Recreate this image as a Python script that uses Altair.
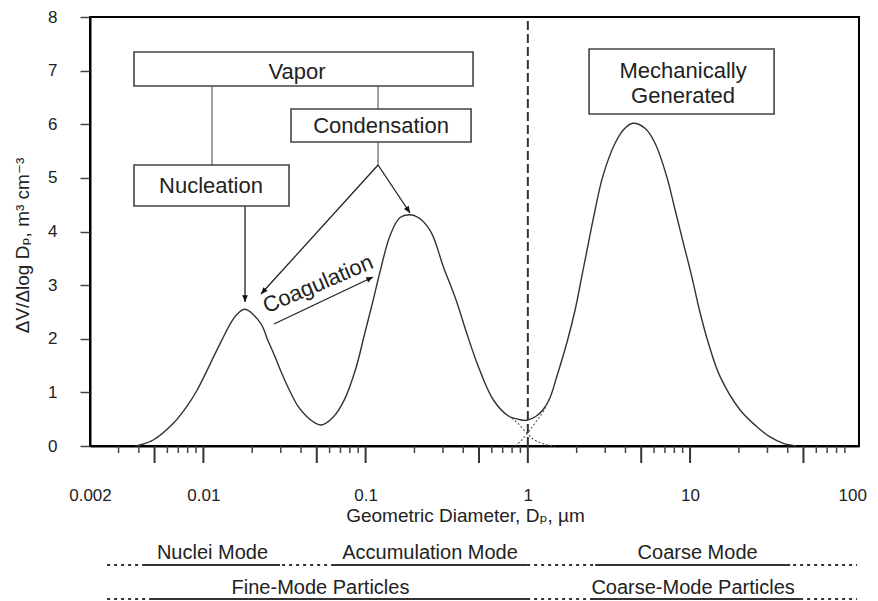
import altair as alt
import pandas as pd

FONT = "Liberation Sans, Arial, DejaVu Sans, sans-serif"
INK = "#222222"

# ---------------- size distribution ----------------
total_dp = [0.0038, 0.00407, 0.00491, 0.00653, 0.00789, 0.00910, 0.01023, 0.01163, 0.01297, 0.01459, 0.01619, 0.01806,
            0.02256, 0.02491, 0.02764, 0.03040, 0.03386, 0.03847, 0.04335, 0.04877, 0.05363,
            0.0632, 0.0739, 0.0873, 0.0982, 0.1105, 0.1227, 0.1414, 0.1630, 0.1924, 0.222, 0.2555, 0.3014, 0.3610,
            0.4201, 0.4958, 0.6135, 0.7591, 0.87, 0.985,
            1.13, 1.25, 1.37, 1.507, 1.737, 1.955, 2.150, 2.361, 2.597, 2.895, 3.450, 3.95, 4.435, 5.30, 6.085,
            7.183, 8.087, 9.100, 10.25, 11.42, 12.98, 15.32, 20.35, 25.8, 31.1, 37.6, 41.4, 45.0]
total_dv = [0.0, 0.02, 0.112, 0.423, 0.733, 1.03, 1.33, 1.68, 1.97, 2.27, 2.46, 2.549,
            2.288, 1.977, 1.666, 1.355, 1.044, 0.733, 0.55, 0.43, 0.392,
            0.54, 0.86, 1.46, 2.07, 2.68, 3.25, 3.92, 4.26, 4.308, 4.21, 3.966, 3.344, 2.723,
            2.101, 1.479, 0.858, 0.56, 0.50, 0.48,
            0.56, 0.69, 0.90, 1.29, 1.915, 2.536, 3.158, 3.780, 4.401, 5.023, 5.645, 5.92, 6.018, 5.92, 5.645,
            5.023, 4.401, 3.780, 3.158, 2.536, 1.915, 1.293, 0.671, 0.36, 0.17, 0.05, 0.02, 0.0]

accum_tail_dp = [0.76, 0.87, 0.985, 1.09, 1.19, 1.32, 1.47]
accum_tail_dv = [0.56, 0.42, 0.24, 0.12, 0.06, 0.02, 0.0]
coarse_tail_dp = [0.834, 0.895, 0.985, 1.134, 1.25, 1.37]
coarse_tail_dv = [0.0, 0.08, 0.224, 0.47, 0.65, 0.89]

# ---------------- axes ----------------
x_label_values = [0.002, 0.01, 0.1, 1, 10, 100]
y_label_values = [0, 1, 2, 3, 4, 5, 6, 7, 8]
major_ticks = [0.005, 0.01, 0.05, 0.1, 0.5, 1, 5, 10, 50]
minor_ticks = [0.003, 0.004, 0.006, 0.007, 0.008, 0.009,
               0.02, 0.03, 0.04, 0.06, 0.07, 0.08, 0.09,
               0.2, 0.3, 0.4, 0.6, 0.7, 0.8, 0.9,
               2, 3, 4, 6, 7, 8, 9,
               20, 30, 40, 60, 70, 80, 90]

# ---------------- annotation boxes ----------------
box_x1 = [0.003735, 0.03469, 0.003735, 2.385]
box_x2 = [0.4595, 0.4467, 0.03372, 32.97]
box_y1 = [7.347, 6.284, 5.240, 7.403]
box_y2 = [6.713, 5.669, 4.476, 6.191]
box_text = ["Vapor", "Condensation", "Nucleation", "Mechanically", "Generated"]
box_text_x = [0.03777, 0.1245, 0.01114, 9.06, 9.06]
box_text_y = [6.974, 5.967, 4.848, 6.993, 6.527]

# gray connectors
conn_x1 = [0.01130, 0.1193, 0.1193]
conn_x2 = [0.01130, 0.1193, 0.1193]
conn_y1 = [6.713, 6.713, 5.669]
conn_y2 = [5.240, 6.284, 5.240]

# arrows (start -> tip)
arr_x1 = [0.01806, 0.1193, 0.1193, 0.02725]
arr_y1 = [4.476, 5.240, 5.240, 2.275]
arr_x2 = [0.01806, 0.1879, 0.02265, 0.1111]
arr_y2 = [2.685, 4.345, 2.834, 3.152]
arr_angle = [180, 146.3, 222.2, 64.6]

coag_label = ["Coagulation"]
coag_x = [0.0509]
coag_y = [3.02]

# ---------------- mode bands below the axis ----------------
band_text = ["Nuclei Mode", "Accumulation Mode", "Coarse Mode", "Fine-Mode Particles", "Coarse-Mode Particles"]
band_text_x = [0.01138, 0.2495, 11.13, 0.0527, 10.44]
band_row = [1, 1, 1, 2, 2]
band_solid_x1 = [0.00436, 0.0621, 2.60, 0.00470, 2.42]
band_solid_x2 = [0.02968, 0.989, 41.4, 0.995, 47.6]
band_solid_row = [1, 1, 1, 2, 2]
band_dot_x1 = [0.00255, 0.00255]
band_dot_x2 = [107, 107]
band_dot_row = [1, 2]

W, H = 769, 429
ROW_LINE_Y = {1: H + 119, 2: H + 153}
ROW_TEXT_Y = {1: H + 107, 2: H + 142}

xscale = alt.Scale(type="log", domain=[0.002, 110], nice=False)
yscale = alt.Scale(domain=[0, 8], nice=False, zero=False)

x_axis = alt.Axis(values=x_label_values, format="~g", ticks=False, tickSize=0, grid=False,
                  labelFontSize=17, labelColor=INK, labelPadding=49, labelBaseline="middle",
                  labelFlush=False, labelOverlap=False,
                  domainColor="black", domainWidth=2,
                  title="Geometric Diameter, Dₚ, µm", titleFontSize=19, titleFontWeight="normal",
                  titleColor=INK, titleX=375, titleY=69, titleBaseline="middle", titleAlign="center")
y_axis = alt.Axis(values=y_label_values, tickSize=10, tickColor="#444444", tickWidth=1.5, grid=False,
                  labelFontSize=17, labelColor=INK, labelPadding=23,
                  domainColor="black", domainWidth=2,
                  title="ΔV/Δlog Dₚ, m³ cm⁻³", titleFontSize=19, titleFontWeight="normal",
                  titleColor=INK, titleX=-68, titleY=228, titleBaseline="middle", titleAlign="center")

total_df = pd.DataFrame({"dp": total_dp, "dv": total_dv})
accum_df = pd.DataFrame({"dp": accum_tail_dp, "dv": accum_tail_dv})
coarse_df = pd.DataFrame({"dp": coarse_tail_dp, "dv": coarse_tail_dv})

curve = alt.Chart(total_df).mark_line(color="#333333", strokeWidth=1.4, interpolate="catmull-rom").encode(
    x=alt.X("dp:Q", scale=xscale, axis=x_axis),
    y=alt.Y("dv:Q", scale=yscale, axis=y_axis),
)
tail_a = alt.Chart(accum_df).mark_line(color="#555555", strokeWidth=1.1, strokeDash=[2, 2],
                                       interpolate="monotone").encode(x="dp:Q", y="dv:Q")
tail_c = alt.Chart(coarse_df).mark_line(color="#555555", strokeWidth=1.1, strokeDash=[2, 2],
                                        interpolate="monotone").encode(x="dp:Q", y="dv:Q")

divider = alt.Chart(pd.DataFrame({"dp": [1.0], "lo": [0.0], "hi": [8.0]})).mark_rule(
    color="#333333", strokeWidth=2, strokeDash=[9, 4]).encode(x="dp:Q", y="lo:Q", y2="hi:Q")

major_df = pd.DataFrame({"dp": major_ticks})
minor_df = pd.DataFrame({"dp": minor_ticks})
major_rules = alt.Chart(major_df).mark_rule(color="#333333", strokeWidth=2).encode(
    x="dp:Q", y=alt.value(H), y2=alt.value(H + 17))
minor_rules = alt.Chart(minor_df).mark_rule(color="#444444", strokeWidth=1.5).encode(
    x="dp:Q", y=alt.value(H), y2=alt.value(H + 7))

boxes_df = pd.DataFrame({"dp": box_x1, "dp2": box_x2, "dv": box_y1, "dv2": box_y2})
boxes = alt.Chart(boxes_df).mark_rect(fill="white", stroke="#444444", strokeWidth=1.6).encode(
    x="dp:Q", x2="dp2:Q", y="dv:Q", y2="dv2:Q")
box_lab_df = pd.DataFrame({"dp": box_text_x, "dv": box_text_y, "label": box_text})
box_labels = alt.Chart(box_lab_df).mark_text(font=FONT, fontSize=22, color=INK, align="center",
                                             baseline="middle").encode(
    x="dp:Q", y="dv:Q", text="label:N")

conn_df = pd.DataFrame({"dp": conn_x1, "dp2": conn_x2, "dv": conn_y1, "dv2": conn_y2})
connectors = alt.Chart(conn_df).mark_rule(color="#8a8a8a", strokeWidth=1.6).encode(
    x="dp:Q", x2="dp2:Q", y="dv:Q", y2="dv2:Q")

arr_df = pd.DataFrame({"dp": arr_x1, "dv": arr_y1, "dp2": arr_x2, "dv2": arr_y2})
arrows = alt.Chart(arr_df).mark_rule(color="#222222", strokeWidth=1.3).encode(
    x="dp:Q", x2="dp2:Q", y="dv:Q", y2="dv2:Q")
head_df = pd.DataFrame({"dp": arr_x2, "dv": arr_y2, "ang": arr_angle})
heads = alt.Chart(head_df).mark_point(shape="M0,0L-0.42,1L0.42,1Z", filled=True, size=180,
                                      color="#111111", opacity=1).encode(
    x="dp:Q", y="dv:Q", angle=alt.Angle("ang:Q", scale=None))

coag_df = pd.DataFrame({"dp": coag_x, "dv": coag_y, "label": coag_label})
coag = alt.Chart(coag_df).mark_text(font=FONT, fontSize=22, color=INK, angle=337,
                                    align="center", baseline="middle").encode(
    x="dp:Q", y="dv:Q", text="label:N")

band_layers = []
for r in (1, 2):
    dots = pd.DataFrame({"dp": [a for a, k in zip(band_dot_x1, band_dot_row) if k == r],
                         "dp2": [b for b, k in zip(band_dot_x2, band_dot_row) if k == r]})
    band_layers.append(alt.Chart(dots).mark_rule(color="#333333", strokeWidth=2, strokeDash=[3, 4]).encode(
        x="dp:Q", x2="dp2:Q", y=alt.value(ROW_LINE_Y[r])))
    solids = pd.DataFrame({"dp": [a for a, k in zip(band_solid_x1, band_solid_row) if k == r],
                           "dp2": [b for b, k in zip(band_solid_x2, band_solid_row) if k == r]})
    band_layers.append(alt.Chart(solids).mark_rule(color="#333333", strokeWidth=2.2).encode(
        x="dp:Q", x2="dp2:Q", y=alt.value(ROW_LINE_Y[r])))
    texts = pd.DataFrame({"dp": [a for a, k in zip(band_text_x, band_row) if k == r],
                          "label": [t for t, k in zip(band_text, band_row) if k == r]})
    band_layers.append(alt.Chart(texts).mark_text(font=FONT, fontSize=20, color=INK, align="center",
                                                  baseline="middle").encode(
        x="dp:Q", y=alt.value(ROW_TEXT_Y[r]), text="label:N"))

chart = alt.layer(
    divider, curve, tail_a, tail_c, major_rules, minor_rules,
    connectors, arrows, boxes, box_labels, heads, coag, *band_layers
).properties(
    width=W, height=H,
    autosize=alt.AutoSizeParams(type="none"),
    padding={"left": 82, "top": 9, "right": 10, "bottom": 154},
    background="white",
).configure_view(
    stroke="black", strokeWidth=2
).configure_axis(
    labelFont=FONT, titleFont=FONT
)

chart.save("out.html", embed_options={"renderer": "svg", "actions": False})
